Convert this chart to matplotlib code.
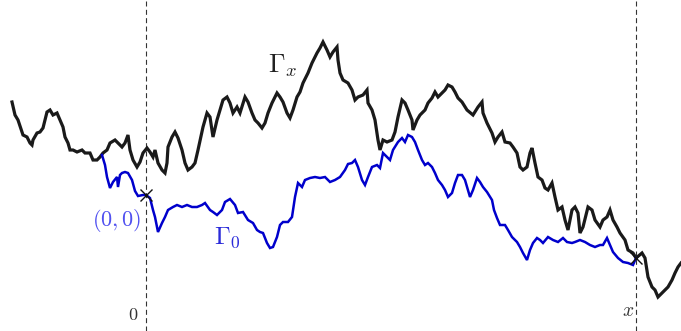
import numpy as np
import matplotlib
matplotlib.use("Agg")
import matplotlib.pyplot as plt

plt.rcParams["mathtext.fontset"] = "cm"

# Path Gamma_x: (position, height) samples, origin at the (0,0) point
gamma_x_pts = [
    (-134, 93), (-131, 80), (-128, 75), (-123, 60), (-119, 58), (-116, 52), (-114, 50), (-113, 55),
    (-109, 62), (-106, 63), (-103, 67), (-99, 83), (-96, 85), (-93, 80), (-89, 82), (-86, 75),
    (-83, 68), (-81, 58), (-78, 52), (-76, 45), (-73, 45), (-69, 43), (-64, 45), (-61, 42),
    (-56, 42), (-53, 35), (-49, 35), (-46, 38), (-43, 42), (-39, 45), (-36, 52), (-31, 55),
    (-28, 52), (-24, 48), (-21, 52), (-18, 60), (-16, 45), (-13, 35), (-9, 28), (-6, 33),
    (-3, 42), (1, 47), (4, 43), (7, 38), (9, 45), (12, 32), (16, 25), (19, 22),
    (21, 32), (22, 48), (26, 58), (29, 63), (32, 57), (36, 45), (39, 32), (42, 25),
    (46, 28), (49, 32), (52, 45), (57, 68), (61, 82), (64, 78), (67, 58), (71, 75),
    (74, 85), (77, 95), (81, 98), (84, 92), (87, 82), (91, 88), (94, 82), (99, 98),
    (102, 93), (106, 82), (109, 75), (112, 72), (116, 67), (119, 72), (122, 82), (126, 92),
    (131, 102), (134, 98), (137, 93), (141, 82), (144, 77), (147, 85), (151, 98), (154, 103),
    (157, 112), (162, 122), (166, 132), (171, 142), (174, 147), (177, 153), (181, 145), (184, 138),
    (187, 143), (191, 148), (192, 135), (194, 122), (197, 115), (202, 112), (206, 105), (209, 95),
    (212, 98), (217, 100), (221, 105), (222, 92), (226, 85), (229, 75), (232, 55), (234, 45),
    (237, 55), (241, 53), (246, 55), (249, 63), (252, 78), (256, 95), (259, 92), (262, 85),
    (266, 75), (267, 65), (271, 75), (274, 80), (279, 85), (282, 92), (286, 97), (289, 103),
    (292, 98), (296, 102), (299, 105), (302, 110), (306, 108), (309, 103), (312, 97), (316, 93),
    (321, 85), (327, 80), (332, 88), (336, 93), (337, 82), (341, 72), (346, 62), (349, 53),
    (352, 58), (356, 63), (359, 53), (364, 52), (367, 48), (371, 42), (374, 28), (377, 25),
    (381, 28), (384, 42), (386, 47), (389, 32), (392, 18), (396, 15), (399, 7), (402, 5),
    (406, 12), (409, -2), (412, -15), (416, -12), (419, -25), (422, -35), (426, -15), (429, -12),
    (432, -18), (434, -38), (437, -32), (442, -12), (446, -15), (449, -25), (454, -32), (457, -25),
    (461, -22), (464, -15), (467, -25), (471, -32), (474, -38), (479, -45), (482, -55), (487, -58),
    (490, -63), (496, -58), (499, -63), (502, -82), (506, -92), (509, -95), (512, -102), (516, -98),
    (519, -95), (522, -92), (526, -85), (529, -78), (532, -72), (535, -68),
]

# Path Gamma_0: starts on Gamma_x, passes through (0,0), ends at x
gamma_0_pts = [
    (-44, 40), (-41, 30), (-39, 18), (-36, 7), (-33, 13), (-29, 18), (-28, 8), (-26, 20),
    (-24, 22), (-21, 23), (-18, 22), (-14, 15), (-11, 4), (-8, -1), (-3, 0), (0, 0),
    (4, -3), (7, -15), (9, -22), (12, -37), (16, -28), (19, -22), (22, -15), (27, -12),
    (31, -10), (36, -12), (41, -10), (46, -12), (51, -12), (56, -10), (59, -8), (64, -15),
    (67, -17), (71, -20), (76, -15), (79, -7), (84, -4), (89, -10), (92, -18), (97, -17),
    (102, -25), (107, -28), (111, -35), (114, -37), (117, -38), (121, -48), (124, -53), (127, -52),
    (131, -42), (134, -30), (137, -27), (142, -27), (146, -22), (149, -2), (152, 12), (156, 8),
    (159, 15), (164, 17), (169, 18), (174, 17), (179, 18), (184, 13), (189, 15), (194, 18),
    (199, 25), (202, 31), (206, 32), (209, 35), (212, 28), (216, 15), (219, 10), (222, 18),
    (226, 28), (231, 30), (234, 27), (237, 42), (241, 38), (244, 35), (247, 45), (252, 53),
    (256, 57), (259, 53), (262, 60), (266, 58), (269, 53), (272, 45), (276, 35), (279, 30),
    (282, 32), (286, 28), (289, 22), (292, 15), (296, 10), (299, 5), (302, -2), (306, 2),
    (309, 12), (312, 20), (316, 20), (319, 15), (324, -2), (327, 5), (331, 17), (334, 13),
    (337, 8), (341, 3), (346, -5), (348, -15), (351, -23), (354, -30), (359, -30), (362, -35),
    (366, -42), (371, -47), (374, -52), (377, -58), (381, -65), (384, -55), (387, -48), (391, -43),
    (394, -45), (397, -48), (402, -42), (407, -45), (412, -47), (417, -43), (421, -47), (426, -48),
    (429, -47), (434, -45), (439, -47), (444, -50), (449, -52), (454, -50), (457, -50), (461, -43),
    (464, -50), (467, -57), (472, -63), (477, -67), (482, -68), (487, -70), (490, -63),
]

x_end = 490
marks_x = [0, x_end]
marks_y = [0, -63]
tick_labels = ["0", "x"]

gx, gy = np.array(gamma_x_pts, dtype=float).T
bx, by = np.array(gamma_0_pts, dtype=float).T

fig = plt.figure(figsize=(6.81, 3.31), dpi=100)
ax = fig.add_axes([0, 0, 1, 1])
ax.set_xlim(-146, 535)
ax.set_ylim(-136, 195)
ax.axis("off")

for xv in marks_x:
    ax.axvline(xv, color="#333333", lw=0.8, ls=(0, (4.5, 3)), zorder=1)

ax.plot(gx, gy, color="#1a1a1a", lw=2.3, solid_joinstyle="miter", zorder=2)
ax.plot(bx, by, color="#0000cc", lw=1.8, solid_joinstyle="miter", zorder=3)
ax.plot(marks_x, marks_y, ls="none", marker="x", ms=9, mew=1.0, color="#111111", zorder=4)

ax.text(137, 129, r"$\Gamma_x$", fontsize=19, color="#222222", ha="center", va="center")
ax.text(81, -43, r"$\Gamma_0$", fontsize=18, color="#2b2bd9", ha="center", va="center")
ax.text(-29, -25, r"$(0,0)$", fontsize=16, color="#5050f0", ha="center", va="center")
ax.text(-13, -120, r"$%s$" % tick_labels[0], fontsize=13, color="#333333", ha="center", va="center")
ax.text(482, -116, r"$%s$" % tick_labels[1], fontsize=14, color="#333333", ha="center", va="center")

fig.savefig("out.png", dpi=100)
